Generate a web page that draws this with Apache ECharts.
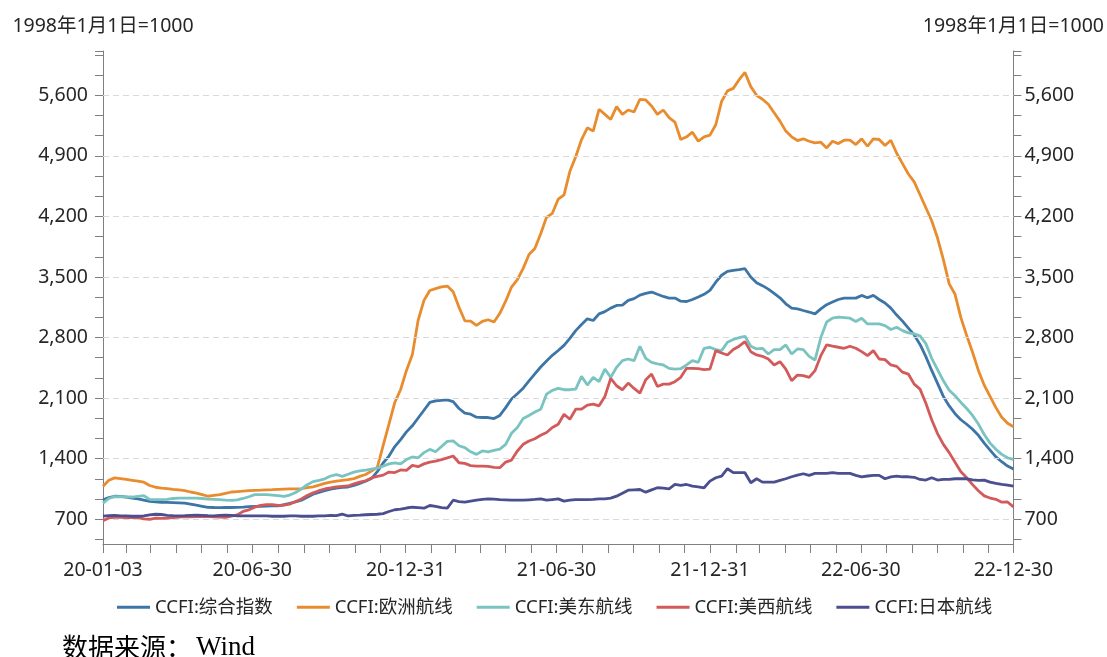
<!DOCTYPE html>
<html><head><meta charset="utf-8">
<script src="https://cdn.jsdelivr.net/npm/echarts@6/dist/echarts.min.js"></script>
<style>html,body{margin:0;padding:0;background:#fff}#c{width:1107px;height:657px}</style>
</head><body><div id="c"></div>
<script>
// ---- data (weekly CCFI, 2020-01-03 .. 2022-12-30) ----
const startDate = '2020-01-03';
const endDate = '2022-12-30';
const seriesNames = ['CCFI:综合指数','CCFI:欧洲航线','CCFI:美东航线','CCFI:美西航线','CCFI:日本航线'];
const xLabelDates = ['2020-01-03','2020-06-30','2020-12-31','2021-06-30','2021-12-31','2022-06-30','2022-12-30'];
const yLabelValues = [700,1400,2100,2800,3500,4200,4900,5600];
const yAxisName = '1998年1月1日=1000';
const sourceLabel = '数据来源：';
const sourceName = 'Wind';

const composite = [
 926,950,966,964,955,945,935,920,906,900,
 896,894,892,890,887,875,862,850,838,836,
 835,836,836,838,840,845,848,850,852,854,
 856,870,885,900,920,955,990,1010,1030,1048,
 1060,1068,1073,1090,1115,1139,1170,1250,1350,1430,
 1540,1620,1710,1780,1870,1960,2050,2069,2075,2080,
 2060,1980,1926,1914,1880,1876,1876,1864,1900,1990,
 2090,2150,2215,2300,2380,2460,2530,2595,2650,2710,
 2790,2880,2950,3016,2997,3074,3100,3140,3171,3175,
 3230,3250,3290,3310,3326,3300,3275,3256,3256,3220,
 3217,3240,3268,3300,3345,3440,3520,3566,3577,3585,
 3596,3500,3434,3400,3360,3310,3260,3190,3140,3132,
 3113,3095,3074,3132,3180,3210,3240,3256,3256,3256,
 3287,3260,3287,3240,3200,3140,3060,2990,2910,2830,
 2720,2580,2420,2270,2120,2010,1920,1850,1798,1740,
 1670,1580,1500,1420,1365,1315,1280];
const europe = [
 1081,1150,1178,1170,1160,1150,1140,1128,1090,1070,
 1060,1055,1045,1040,1030,1015,1003,985,966,975,
 984,1000,1015,1020,1025,1030,1033,1036,1040,1042,
 1045,1048,1050,1050,1055,1065,1075,1095,1115,1128,
 1140,1150,1158,1170,1195,1217,1256,1300,1550,1800,
 2050,2200,2420,2600,3000,3230,3344,3365,3385,3395,
 3330,3150,2994,2990,2940,2987,3006,2979,3080,3220,
 3384,3470,3600,3760,3829,4000,4190,4236,4399,4450,
 4721,4890,5089,5224,5186,5438,5379,5321,5469,5379,
 5430,5407,5554,5546,5476,5379,5430,5341,5290,5089,
 5120,5174,5069,5120,5140,5260,5530,5651,5680,5780,
 5864,5700,5600,5554,5496,5399,5302,5186,5120,5077,
 5097,5069,5050,5058,4992,5069,5042,5081,5081,5031,
 5097,5011,5097,5089,5019,5081,4930,4810,4690,4600,
 4450,4300,4150,3950,3700,3420,3300,3030,2823,2630,
 2420,2250,2120,1990,1880,1810,1770];
const usEast = [
 887,940,962,960,958,957,965,972,930,926,
 926,930,940,945,945,945,945,940,933,930,
 926,920,918,925,940,960,984,985,984,980,
 972,964,980,1010,1050,1100,1135,1150,1167,1200,
 1217,1195,1220,1244,1260,1268,1280,1290,1314,1340,
 1353,1340,1390,1420,1410,1470,1508,1480,1540,1600,
 1605,1550,1528,1480,1450,1489,1478,1495,1510,1566,
 1694,1760,1864,1900,1940,1972,2146,2190,2212,2197,
 2197,2204,2351,2251,2340,2290,2436,2340,2456,2533,
 2552,2533,2699,2560,2514,2495,2483,2444,2436,2440,
 2483,2533,2514,2676,2688,2661,2649,2746,2777,2800,
 2815,2700,2668,2676,2610,2661,2661,2715,2610,2668,
 2661,2583,2540,2800,2980,3024,3036,3030,3024,2985,
 3024,2958,2958,2958,2939,2893,2920,2880,2854,2842,
 2820,2730,2560,2430,2300,2190,2127,2050,1980,1900,
 1800,1680,1580,1510,1450,1410,1392];
const usWest = [
 684,715,723,722,720,723,720,705,700,712,
 710,712,718,725,731,728,730,731,731,728,
 725,723,735,751,790,809,840,860,868,870,
 860,862,875,905,935,975,1005,1030,1050,1062,
 1075,1081,1085,1110,1128,1145,1178,1195,1210,1245,
 1240,1270,1265,1322,1307,1340,1361,1373,1390,1410,
 1431,1353,1346,1320,1314,1314,1310,1300,1296,1361,
 1384,1489,1566,1605,1630,1670,1702,1760,1798,1914,
 1856,1972,1972,2019,2030,2011,2119,2328,2243,2197,
 2274,2212,2158,2313,2378,2235,2262,2262,2290,2340,
 2444,2444,2440,2429,2436,2649,2622,2599,2661,2700,
 2753,2637,2599,2583,2552,2483,2521,2436,2301,2367,
 2359,2340,2417,2591,2715,2700,2688,2676,2699,2676,
 2637,2591,2649,2552,2545,2483,2467,2400,2378,2262,
 2204,2040,1850,1690,1566,1470,1360,1250,1180,1100,
 1030,970,945,930,897,900,843];
const japan = [
 735,742,745,740,738,735,735,738,750,758,
 755,745,742,740,742,745,748,745,742,740,
 745,748,745,740,738,738,740,738,738,735,
 735,735,738,738,735,735,735,738,740,745,
 742,760,738,745,748,752,755,758,765,790,
 810,816,830,839,835,828,859,850,835,828,
 920,905,897,909,920,930,936,932,928,925,
 920,920,920,925,930,936,920,928,936,909,
 920,928,928,928,930,935,936,945,967,1000,
 1036,1040,1044,1013,1040,1064,1060,1052,1102,1091,
 1102,1083,1075,1064,1141,1180,1199,1284,1238,1238,
 1238,1122,1168,1129,1129,1129,1150,1168,1191,1210,
 1226,1207,1230,1230,1230,1238,1230,1230,1230,1207,
 1191,1200,1207,1207,1168,1190,1199,1191,1191,1185,
 1160,1153,1180,1153,1160,1160,1168,1168,1168,1155,
 1149,1153,1129,1114,1102,1095,1083];
const seriesValues = [composite, europe, usEast, usWest, japan];
const seriesColors = ['#3d76a6','#e98c2e','#79c4c1','#d35a5b','#4b4e8f'];

// ---- axes setup ----
const DAY = 86400000;
const t0 = Date.parse(startDate);
const tEnd = Date.parse(endDate);
const yMin = 414, yMax = 6112;
const xLabelValues = xLabelDates.map(d => Date.parse(d));
const xTickValues = [t0];
for (let y = 2020; y <= 2022; y++) for (let m = 1; m <= 12; m++) {
  const t = Date.UTC(y, m, 0);
  if (t > t0 && t < tEnd) xTickValues.push(t);
}
xTickValues.push(tEnd);
const yTickValues = [];
for (let k = 2; k * 700 / 3 < yMax; k++) yTickValues.push(k * 700 / 3);
yTickValues.push(yMax);

const pad = n => (n < 10 ? '0' : '') + n;
const fmtDate = v => { const d = new Date(v); return String(d.getUTCFullYear()).slice(2) + '-' + pad(d.getUTCMonth() + 1) + '-' + pad(d.getUTCDate()); };
const FONT = '"Noto Sans", "Noto Sans CJK SC", sans-serif';
const axisColor = '#7f7f7f';
const textColor = '#262626';
const FS = 19.5;

function yAxisCfg(pos) {
  return {
    type: 'value', position: pos, min: yMin, max: yMax,
    name: yAxisName, nameLocation: 'end', nameGap: 15,
    nameTextStyle: { fontSize: FS, color: textColor, fontFamily: FONT },
    axisLine: { show: true, lineStyle: { color: axisColor, width: 1 } },
    axisTick: { show: true, length: 8, customValues: yTickValues, lineStyle: { color: axisColor } },
    axisLabel: { show: true, customValues: yLabelValues, margin: pos === 'left' ? 15 : 11, fontSize: FS, color: textColor, fontFamily: FONT,
      formatter: v => Math.round(v).toLocaleString('en-US') },
    splitLine: { show: false }
  };
}

const series = [{
  type: 'line', name: '_grid', data: [], z: 1, silent: true,
  markLine: { silent: true, symbol: ['none', 'none'], label: { show: false }, animation: false,
    lineStyle: { color: '#d9d9d9', type: [6, 4], width: 1 },
    data: yLabelValues.map(v => ({ yAxis: v })) }
}];
seriesNames.forEach((name, s) => {
  series.push({
    type: 'line', name, showSymbol: false, symbol: 'none', z: 3 + s,
    lineStyle: { width: 2.8, color: seriesColors[s] }, itemStyle: { color: seriesColors[s] },
    data: seriesValues[s].map((v, i) => [t0 + i * 7 * DAY, v])
  });
});

const chart = echarts.init(document.getElementById('c'), null, { renderer: 'canvas' });
chart.setOption({
  animation: false,
  backgroundColor: '#fff',
  grid: { left: 103, right: 91, top: 51, bottom: 113 },
  xAxis: {
    type: 'value', min: t0, max: tEnd,
    axisLine: { show: true, onZero: false, lineStyle: { color: axisColor, width: 1 } },
    axisTick: { show: true, length: 9, customValues: xTickValues, lineStyle: { color: axisColor } },
    axisLabel: { customValues: xLabelValues, formatter: fmtDate, margin: 17, fontSize: FS, color: textColor, fontFamily: FONT },
    splitLine: { show: false }
  },
  yAxis: [yAxisCfg('left'), yAxisCfg('right')],
  legend: {
    data: seriesNames, left: 117, top: 598, padding: 0, icon: 'rect', itemWidth: 33, itemHeight: 3, itemGap: 24,
    textStyle: { fontSize: 18.5, color: textColor, fontFamily: FONT }
  },
  graphic: [{ type: 'text', left: 62, top: 634,
    style: { text: '{a|' + sourceLabel + '}{b|' + sourceName + '}',
      rich: {
        a: { fontSize: 26, fill: '#000', fontFamily: '"Noto Sans CJK SC", sans-serif' },
        b: { fontSize: 27, fill: '#000', fontFamily: '"Liberation Serif", serif', padding: [0, 0, 0, 4] }
      } } }],
  series
});
</script></body></html>
